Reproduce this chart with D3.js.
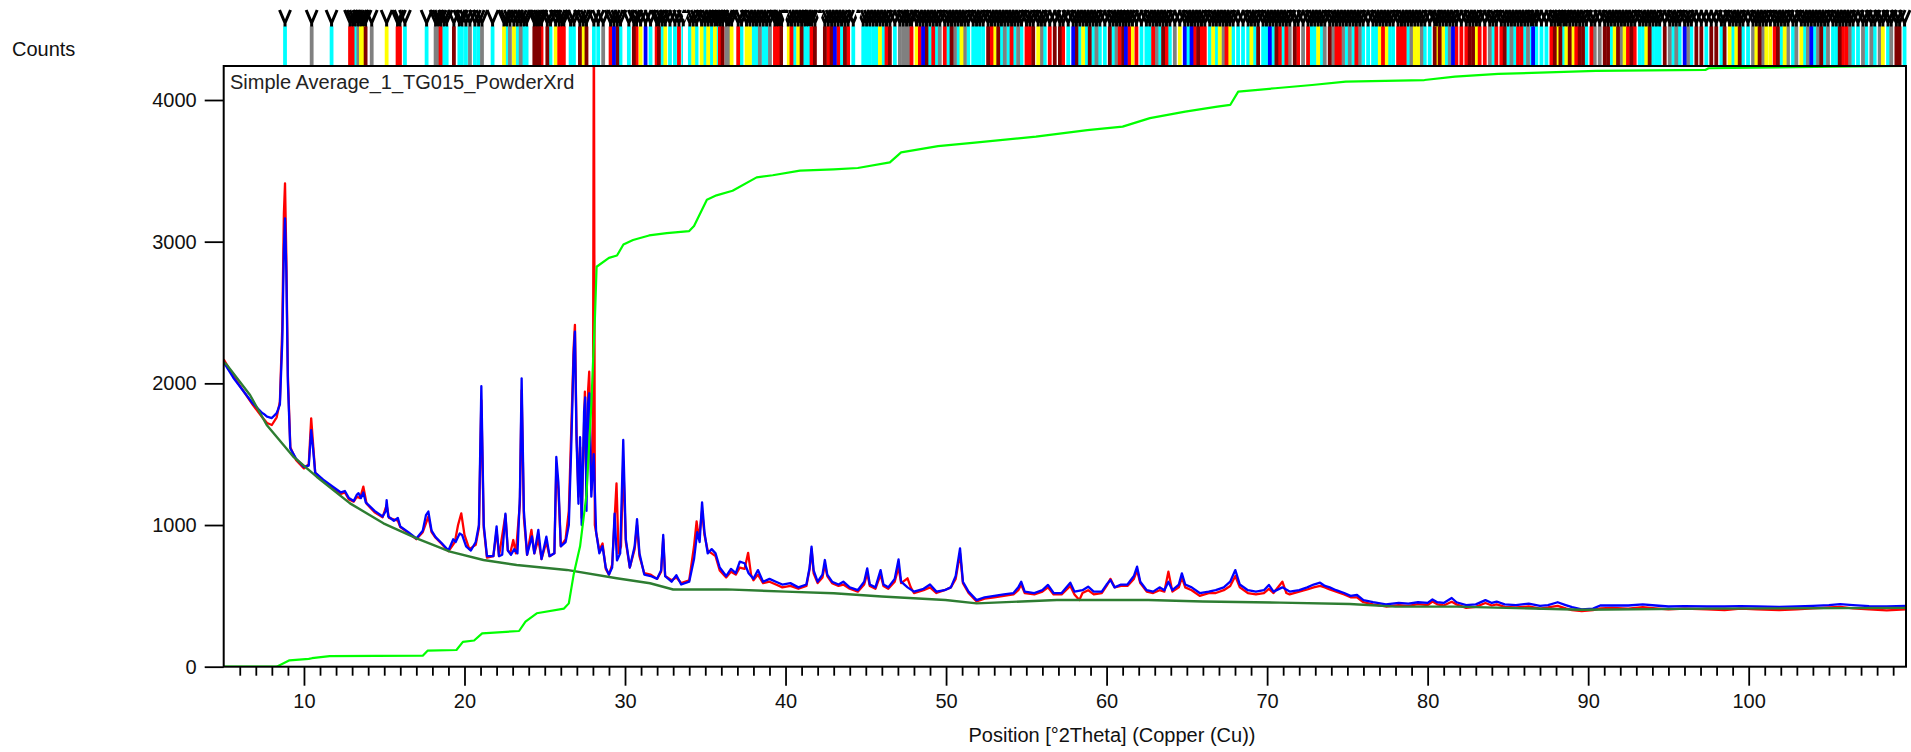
<!DOCTYPE html>
<html>
<head>
<meta charset="utf-8">
<script src="https://cdn.jsdelivr.net/npm/d3@7"></script>
<style>
  body { margin: 0; background: #fff; }
  svg { display: block; }
  text { font-family: "Liberation Sans", Arial, sans-serif; }
</style>
</head>
<body>
<div id="chart"></div>
<script>
// ---- measured pattern (2theta, counts) ----
var bluePattern = [[5.0,2150],[5.6,2040],[6.2,1950],[6.8,1860],[7.4,1790],[7.55,1780],[7.7,1765],[8.0,1755],[8.3,1790],[8.5,1850],[8.65,2300],[8.75,2950],[8.82,3165],[8.9,2800],[9.0,2000],[9.15,1540],[9.5,1470],[10.0,1410],[10.3,1420],[10.45,1670],[10.55,1560],[10.7,1370],[11.2,1320],[11.8,1270],[12.3,1230],[12.55,1240],[12.8,1190],[13.1,1170],[13.3,1215],[13.4,1225],[13.55,1190],[13.7,1230],[13.85,1160],[14.4,1100],[14.9,1060],[15.1,1100],[15.15,1175],[15.25,1060],[15.6,1030],[15.85,1050],[16.0,990],[16.5,950],[17.0,905],[17.4,960],[17.6,1070],[17.75,1095],[17.95,960],[18.2,915],[18.6,870],[19.0,820],[19.3,900],[19.45,880],[19.7,940],[19.85,930],[20.1,850],[20.4,820],[20.7,880],[20.9,1000],[21.05,1980],[21.2,1000],[21.4,780],[21.8,780],[22.0,990],[22.15,780],[22.35,790],[22.55,1080],[22.7,820],[22.9,790],[23.1,830],[23.3,800],[23.45,1200],[23.56,2035],[23.7,1100],[23.9,790],[24.2,920],[24.35,800],[24.6,965],[24.8,760],[25.1,918],[25.3,780],[25.6,800],[25.72,1480],[25.85,1300],[26.0,850],[26.3,880],[26.5,1000],[26.65,1550],[26.8,2200],[26.88,2365],[26.98,1600],[27.1,1150],[27.2,1620],[27.3,1000],[27.45,1800],[27.52,1900],[27.6,1100],[27.7,1860],[27.78,1930],[27.9,1200],[28.05,1500],[28.2,950],[28.4,800],[28.6,850],[28.8,700],[29.0,650],[29.2,700],[29.35,1080],[29.5,750],[29.7,800],[29.89,1600],[30.05,900],[30.3,700],[30.6,850],[30.75,1041],[30.9,800],[31.2,650],[31.6,640],[32.0,620],[32.25,680],[32.38,930],[32.5,640],[32.9,600],[33.2,646],[33.5,580],[34.0,600],[34.3,760],[34.5,950],[34.65,880],[34.8,1160],[34.95,950],[35.15,800],[35.4,830],[35.64,800],[35.9,700],[36.3,640],[36.6,690],[36.9,660],[37.15,741],[37.45,730],[37.7,660],[38.0,620],[38.28,682],[38.6,600],[39.0,620],[39.4,600],[39.8,580],[40.3,590],[40.8,560],[41.3,580],[41.5,700],[41.62,847],[41.75,680],[42.0,600],[42.3,650],[42.45,753],[42.6,650],[42.9,600],[43.3,580],[43.6,600],[44.0,560],[44.5,540],[44.9,600],[45.09,694],[45.25,580],[45.6,560],[45.92,682],[46.1,580],[46.4,560],[46.8,620],[47.04,757],[47.2,600],[47.6,560],[48.0,530],[48.6,550],[49.0,580],[49.4,530],[49.9,540],[50.3,560],[50.6,640],[50.87,835],[51.05,600],[51.4,530],[51.9,470],[52.4,490],[53.0,500],[53.6,510],[54.2,520],[54.5,560],[54.68,600],[54.9,530],[55.5,520],[56.0,540],[56.35,577],[56.7,520],[57.2,520],[57.74,593],[58.0,530],[58.5,540],[58.85,565],[59.2,530],[59.7,530],[60.0,580],[60.24,612],[60.5,560],[60.9,580],[61.3,580],[61.7,640],[61.9,706],[62.1,600],[62.5,540],[62.9,530],[63.3,560],[63.6,540],[63.85,600],[64.1,540],[64.5,580],[64.69,659],[64.9,580],[65.3,560],[65.8,520],[66.36,530],[66.8,540],[67.3,560],[67.7,600],[68.02,682],[68.3,580],[68.8,540],[69.3,530],[69.8,540],[70.11,577],[70.4,530],[70.95,560],[71.4,530],[72.0,540],[72.5,560],[72.9,580],[73.3,593],[73.6,570],[73.9,560],[74.3,540],[74.8,520],[75.2,500],[75.6,506],[76.0,470],[76.6,455],[77.4,440],[78.2,450],[78.8,445],[79.4,455],[80.0,450],[80.3,475],[80.6,455],[81.0,450],[81.5,485],[81.8,455],[82.4,435],[83.0,440],[83.6,470],[84.0,450],[84.3,460],[84.8,440],[85.5,435],[86.3,445],[87.0,430],[87.5,435],[88.1,455],[88.6,435],[89.0,420],[89.6,405],[90.3,410],[90.75,432],[91.5,432],[92.5,432],[93.4,440],[94.2,432],[95.0,425],[96.0,428],[97.4,425],[98.5,425],[99.5,428],[100.5,425],[101.9,422],[103.0,425],[104.0,430],[105.0,435],[105.7,442],[106.5,435],[107.5,428],[108.6,426],[109.8,430]];

var redPattern = [[5.0,2170],[5.6,2050],[6.2,1950],[6.8,1850],[7.4,1760],[7.7,1720],[8.0,1706],[8.3,1760],[8.5,1870],[8.65,2400],[8.75,3200],[8.82,3412],[8.9,2900],[9.0,2050],[9.15,1550],[9.5,1460],[10.0,1400],[10.3,1430],[10.45,1753],[10.55,1600],[10.7,1370],[11.2,1310],[11.8,1260],[12.3,1220],[12.55,1230],[12.8,1180],[13.1,1165],[13.3,1200],[13.5,1190],[13.7,1271],[13.9,1150],[14.4,1090],[14.9,1055],[15.15,1140],[15.3,1050],[15.85,1030],[16.0,985],[16.5,945],[17.0,900],[17.4,950],[17.75,1060],[17.95,950],[18.2,910],[18.6,865],[19.0,815],[19.4,880],[19.6,1000],[19.8,1082],[20.0,930],[20.3,830],[20.7,860],[20.9,980],[21.05,1880],[21.2,980],[21.4,770],[21.8,780],[22.0,960],[22.15,780],[22.55,1070],[22.7,820],[22.85,800],[23.04,894],[23.2,800],[23.45,1150],[23.56,1950],[23.7,1050],[23.9,790],[24.17,965],[24.35,800],[24.6,900],[24.8,760],[25.1,880],[25.3,780],[25.6,800],[25.72,1400],[25.85,1250],[26.0,850],[26.3,900],[26.5,1100],[26.67,1741],[26.8,2250],[26.88,2413],[26.98,1650],[27.1,1200],[27.2,1550],[27.3,1050],[27.5,1941],[27.6,1200],[27.7,1950],[27.77,2082],[27.9,1250],[28.0,1400],[28.06,4800],[28.12,1000],[28.4,820],[28.6,870],[28.8,690],[29.0,650],[29.2,720],[29.47,1293],[29.6,800],[29.75,850],[29.89,1450],[30.05,880],[30.3,700],[30.6,830],[30.75,1000],[30.9,780],[31.2,660],[31.6,650],[32.0,620],[32.25,670],[32.38,900],[32.5,640],[32.9,610],[33.2,630],[33.5,590],[34.0,610],[34.3,850],[34.46,1025],[34.6,900],[34.8,1100],[34.95,930],[35.15,820],[35.4,800],[35.64,780],[35.9,680],[36.3,630],[36.6,670],[36.9,650],[37.15,700],[37.45,690],[37.67,804],[37.85,650],[38.0,610],[38.28,650],[38.6,590],[39.0,600],[39.4,580],[39.8,560],[40.3,570],[40.8,550],[41.3,570],[41.5,690],[41.62,830],[41.75,660],[42.0,590],[42.3,630],[42.45,720],[42.6,640],[42.9,590],[43.3,570],[43.6,580],[44.0,550],[44.5,530],[44.9,580],[45.09,660],[45.25,570],[45.6,550],[45.92,650],[46.1,570],[46.4,550],[46.8,600],[47.04,700],[47.2,590],[47.6,624],[47.8,560],[48.0,520],[48.6,540],[49.0,560],[49.4,520],[49.9,540],[50.3,560],[50.6,620],[50.87,800],[51.05,590],[51.4,520],[51.9,460],[52.4,480],[53.0,490],[53.6,500],[54.2,510],[54.5,540],[54.68,580],[54.9,520],[55.5,510],[56.0,530],[56.35,560],[56.7,510],[57.2,510],[57.74,570],[58.0,510],[58.3,470],[58.5,520],[58.85,540],[59.2,510],[59.7,520],[60.0,570],[60.24,620],[60.5,560],[60.9,570],[61.3,570],[61.7,620],[61.9,680],[62.1,590],[62.5,530],[62.9,520],[63.3,540],[63.6,530],[63.85,671],[64.1,530],[64.5,560],[64.69,630],[64.9,560],[65.3,540],[65.8,500],[66.36,520],[66.8,520],[67.3,540],[67.7,570],[68.02,640],[68.3,560],[68.8,520],[69.3,510],[69.8,520],[70.11,550],[70.4,520],[70.95,600],[71.2,520],[71.4,510],[72.0,530],[72.5,545],[72.9,560],[73.3,570],[73.6,560],[73.9,545],[74.3,530],[74.8,510],[75.2,490],[75.6,490],[76.0,455],[76.6,440],[77.4,425],[78.2,435],[78.8,430],[79.4,442],[80.0,435],[80.3,460],[80.6,440],[81.0,432],[81.5,458],[81.8,440],[82.4,415],[83.0,422],[83.6,450],[84.0,432],[84.3,440],[84.8,422],[85.5,418],[86.3,425],[87.0,410],[87.5,418],[88.1,430],[88.6,412],[89.0,400],[89.6,392],[90.3,400],[90.75,412],[91.5,415],[92.5,410],[93.4,420],[94.2,412],[95.0,405],[96.0,410],[97.4,405],[98.5,400],[99.5,410],[100.5,405],[101.9,400],[103.0,405],[104.0,412],[105.0,418],[105.7,422],[106.5,412],[107.5,405],[108.6,398],[109.8,405]];

var background = [[5.0,2150],[5.2,2130],[6.64,1918],[7.68,1706],[9.34,1482],[10.79,1341],[12.87,1153],[14.95,1012],[17.02,906],[19.1,812],[21.18,753],[23.25,718],[26.37,683],[29.48,624],[31.56,589],[33.0,545],[36.3,546],[40.0,530],[43.0,518],[46.0,495],[49.96,471],[51.9,447],[56.9,471],[62.6,471],[66.0,460],[70.8,452],[75.15,443],[78.0,424],[81.8,424],[89.6,402],[97.4,410],[109.8,415]];

var cumulative = [[5.0,0],[8.3,0],[9.1,45],[10.3,55],[10.5,60],[11.6,75],[17.4,78],[17.7,113],[19.5,118],[19.9,175],[20.6,185],[21.1,235],[23.4,252],[23.8,318],[24.5,377],[26.2,410],[26.5,447],[26.8,650],[27.2,850],[27.6,1214],[27.9,1845],[28.13,2476],[28.23,2823],[29.0,2886],[29.5,2902],[29.9,2980],[30.5,3012],[31.5,3044],[32.6,3060],[34.0,3075],[34.3,3110],[35.1,3296],[35.7,3327],[36.7,3359],[38.2,3454],[39.2,3469],[40.9,3501],[43.0,3510],[44.5,3520],[46.5,3560],[47.2,3630],[49.5,3674],[51.8,3699],[55.6,3742],[58.8,3788],[61.0,3812],[62.7,3872],[64.9,3918],[66.9,3953],[67.7,3965],[68.2,4059],[70.5,4083],[72.8,4106],[74.9,4130],[79.8,4141],[81.7,4165],[84.4,4184],[90.5,4205],[97.3,4212],[97.5,4224],[105.3,4235],[109.8,4240]];

// ---- reference pattern stick positions (2theta) per phase ----
var phaseCyan = [8.82,11.72,13.2,16.29,17.64,18.72,18.89,19.68,19.84,20.09,20.65,20.88,21.75,22.62,23.29,23.7,23.87,25.36,26.61,26.82,28.06,28.33,29.72,30.24,31.59,32.32,32.8,33.11,33.63,
  34.04,34.46,34.98,35.39,35.75,37.26,37.99,38.19,38.61,38.82,40.58,41.2,41.37,41.52,43.49,44.22,44.84,45.05,45.25,45.46,45.67,46.08,46.81,48.99,49.41,50.13,50.75,51.38,51.69,51.9,52.1,52.31,53.45,53.87,54.28,54.7,56.15,57.61,58.33,58.75,
  59.16,59.58,59.89,60.41,62.17,62.48,62.69,63.31,63.94,65.08,66.43,66.84,67.88,68.19,68.5,68.82,69.23,69.75,69.96,70.37,70.99,72.76,72.97,73.38,74.94,75.36,75.98,76.29,76.6,76.81,77.64,77.85,78.78,79.82,80.13,81.17,84.07,
  85.01,85.42,86.05,86.46,86.77,87.09,87.4,88.48,89.89,91.44,93.21,93.42,94.04,94.25,94.45,95.29,95.7,96.43,97.36,98.3,99.02,99.64,99.96,102.03,102.76,103.49,104.11,104.73,105.25,105.46,106.5,106.81,107.33,107.85,108.68,109.71];
var phaseGray = [10.48,13.39,14.22,18.2,18.37,20.34,21.09,22.83,23.5,28.64,
  36.33,36.47,38.4,39.03,47.12,47.33,47.54,47.74,49.61,50.55,51.17,53.66,54.49,55.94,
  59.37,60.62,63.11,64.25,67.26,71.41,72.24,73.59,74.11,74.73,75.15,75.77,78.99,79.61,81.38,83.87,
  85.22,86.25,90.41,90.72,92.07,95.08,95.49,96.22,100.27,100.89,102.45,102.97,103.69,104.32,104.94,106.29,107.12,107.64,108.16,108.88];
var phaseRed = [12.87,13.03,15.83,15.98,18.51,24.8,25.9,26.07,26.19,29.1,30.72,31.97,33.36,
  35.91,37.05,39.34,39.5,39.65,40.37,41.62,42.66,43.28,43.9,46.29,47.85,48.37,49.2,49.92,52.83,54.08,55.01,55.22,56.46,57.29,
  60.82,61.4,61.86,62.9,63.73,65.49,65.91,66.12,67.47,70.79,71.2,71.93,72.55,74.32,74.53,75.56,77.22,78.16,78.37,78.57,81.79,82.1,82.41,83.24,83.56,84.28,
  84.59,85.63,85.84,87.71,89.26,90.2,92.48,92.9,101.62,105.87,106.08];
var phaseYellow = [13.55,13.7,15.15,22.46,23.08,25.68,27.4,30.97,32.51,
  34.25,34.77,35.18,35.6,36.64,37.57,37.78,40.17,40.79,45.88,48.16,50.96,53.04,55.74,58.54,
  61.61,64.56,66.64,67.05,67.67,69.02,73.18,77.02,77.43,79.2,79.4,80.55,80.96,83.04,
  88.12,88.64,89.06,91.65,92.27,93.62,98.81,99.23,100.48,101.1,101.35,102.24,103.28,108.36];
var phaseMaroon = [13.84,19.34,24.35,24.49,24.66,25.16,27.19,27.6,29.52,30.55,32.11,
  36.08,39.75,41.0,41.83,42.45,42.87,43.7,46.5,48.78,50.34,52.62,53.25,55.43,56.77,57.09,58.12,58.95,
  60.2,61.03,63.52,65.7,69.44,70.58,71.72,73.9,80.44,80.75,82.62,82.83,
  84.8,87.92,88.27,88.85,89.47,89.68,91.03,91.24,91.86,92.69,93.83,94.77,96.74,97.05,97.67,97.98,98.5,99.44,100.68,101.82,104.52,105.67,109.2,109.4];
var phaseBlue = [29.31,31.28,43.07,48.57,57.92,61.2,64.87,65.29,70.17,81.58,86.57,96.01,103.9];
var phaseWhite = [33.73,39.96,42.14,44.53];

var yTicks = [0, 1000, 2000, 3000, 4000];
var xMajor = [10, 20, 30, 40, 50, 60, 70, 80, 90, 100];
var xMinor = d3.range(6, 110).filter(function(d) { return d % 10 !== 0; });

var sampleName = "Simple Average_1_TG015_PowderXrd";
var xTitle = "Position [\u00b02Theta] (Copper (Cu))";
var yTitle = "Counts";

// -------------------------------------------------------
const width = 1911, height = 752;
const plotLeft = 223.7, plotRight = 1906, plotTop = 66, plotBottom = 666.7;

const x = d3.scaleLinear().domain([5, 109.8]).range([plotLeft, plotRight]);
const y = d3.scaleLinear().domain([0, 4240]).range([plotBottom, plotTop]);

const svg = d3.select("#chart").append("svg")
    .attr("width", width)
    .attr("height", height);

svg.append("defs").append("clipPath").attr("id", "plotclip")
  .append("rect")
    .attr("x", plotLeft).attr("y", plotTop)
    .attr("width", plotRight - plotLeft).attr("height", plotBottom - plotTop);

// reference sticks
const phases = [
  {pos: phaseCyan, color: "#00ffff"},
  {pos: phaseGray, color: "#808080"},
  {pos: phaseYellow, color: "#ffff00"},
  {pos: phaseRed, color: "#ff0000"},
  {pos: phaseMaroon, color: "#800000"},
  {pos: phaseBlue, color: "#0000ff"},
  {pos: phaseWhite, color: "#ffffff"}
];
const sticks = [];
phases.forEach(p => p.pos.forEach(v => sticks.push({v: v, color: p.color})));

const stickG = svg.append("g");
// black V marks above each stick
stickG.selectAll("path.vmark")
  .data(sticks.filter(d => d.color !== "#ffffff"))
  .join("path")
    .attr("class", "vmark")
    .attr("fill", "none")
    .attr("stroke", "#000")
    .attr("stroke-width", 3)
    .attr("d", d => {
      const px = x(d.v);
      return `M${px - 5.5},10L${px},23L${px + 5.5},10M${px},23L${px},27`;
    });
stickG.selectAll("path.wmark")
  .data(sticks.filter(d => d.color === "#ffffff"))
  .join("path")
    .attr("class", "wmark")
    .attr("fill", "#fff")
    .attr("d", d => {
      const px = x(d.v);
      return `M${px - 3},13L${px},21L${px + 3},13Z`;
    });
stickG.selectAll("line.stick")
  .data(sticks)
  .join("line")
    .attr("class", "stick")
    .attr("x1", d => x(d.v)).attr("x2", d => x(d.v))
    .attr("y1", 26.5).attr("y2", plotTop)
    .attr("stroke", d => d.color)
    .attr("stroke-width", 3.8);

// curves
const line = d3.line().x(d => x(d[0])).y(d => y(d[1]));
const curves = svg.append("g").attr("clip-path", "url(#plotclip)").attr("fill", "none")
  .attr("stroke-linejoin", "round");

curves.append("path").datum(redPattern)
  .attr("stroke", "#ff0000").attr("stroke-width", 2.3).attr("d", line);
curves.append("path").datum(bluePattern)
  .attr("stroke", "#0000ff").attr("stroke-width", 2.3).attr("d", line);
curves.append("path").datum(background)
  .attr("stroke", "#2e7d32").attr("stroke-width", 2.4).attr("d", line);
curves.append("path").datum(cumulative)
  .attr("stroke", "#00ff00").attr("stroke-width", 2.2).attr("d", line);

// frame
svg.append("rect")
  .attr("x", plotLeft).attr("y", plotTop)
  .attr("width", plotRight - plotLeft).attr("height", plotBottom - plotTop)
  .attr("fill", "none").attr("stroke", "#000").attr("stroke-width", 2);

// axes
const yAxis = svg.append("g")
  .attr("transform", `translate(${plotLeft},0)`)
  .call(d3.axisLeft(y).tickValues(yTicks).tickSize(19).tickPadding(8).tickFormat(d3.format("d")));
yAxis.select(".domain").remove();

const xAxis = svg.append("g")
  .attr("transform", `translate(0,${plotBottom})`)
  .call(d3.axisBottom(x).tickValues(xMajor).tickSize(19).tickPadding(8).tickFormat(d3.format("d")));
xAxis.select(".domain").remove();

const xMinorAxis = svg.append("g")
  .attr("transform", `translate(0,${plotBottom})`)
  .call(d3.axisBottom(x).tickValues(xMinor).tickSize(9).tickFormat(""));
xMinorAxis.select(".domain").remove();

svg.selectAll(".tick line").attr("stroke", "#000").attr("stroke-width", 1.8);
svg.selectAll(".tick text")
  .attr("fill", "#111")
  .style("font-size", "20px")
  .style("font-family", "\"Liberation Sans\", Arial, sans-serif");

// texts
svg.append("text")
  .attr("x", 12).attr("y", 56)
  .style("font-size", "20px").attr("fill", "#111")
  .text(yTitle);

svg.append("text")
  .attr("x", 1112).attr("y", 742)
  .attr("text-anchor", "middle")
  .style("font-size", "20px").attr("fill", "#111")
  .text(xTitle);

svg.append("text")
  .attr("x", 230).attr("y", 89)
  .style("font-size", "20px").attr("fill", "#222")
  .text(sampleName);
</script>
</body>
</html>
